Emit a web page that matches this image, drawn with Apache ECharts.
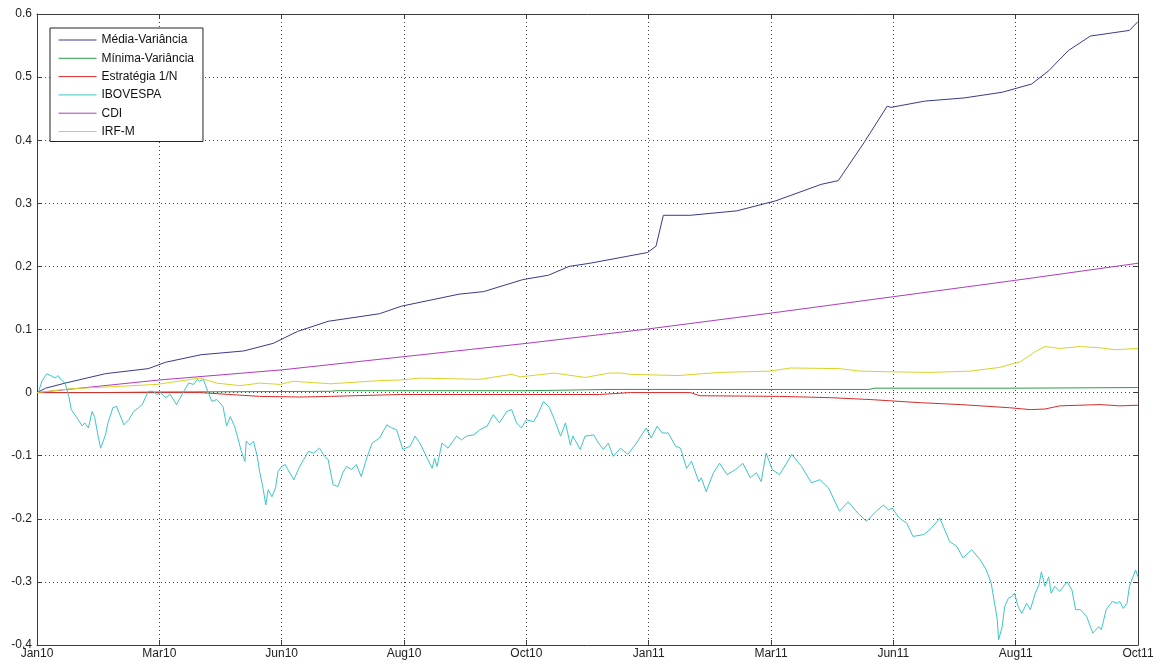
<!DOCTYPE html>
<html>
<head>
<meta charset="utf-8">
<title>Retorno acumulado</title>
<script src="https://cdn.jsdelivr.net/npm/echarts@6/dist/echarts.min.js"></script>
<style>
  html, body { margin: 0; padding: 0; background: #ffffff; }
  #chart { width: 1161px; height: 666px; }
</style>
</head>
<body>
<div id="chart"></div>
<script>
// Tick labels on the time axis (equally spaced positions 0..9)
const xTickLabels = ['Jan10', 'Mar10', 'Jun10', 'Aug10', 'Oct10', 'Jan11', 'Mar11', 'Jun11', 'Aug11', 'Oct11'];

// Series names
const seriesNames = ['Média-Variância', 'Mínima-Variância', 'Estratégia 1/N', 'IBOVESPA', 'CDI', 'IRF-M'];

// Cumulative returns as [axis position, value]
const mediaVariancia = [
  [0, 0], [0.07, 0.007], [0.23, 0.015], [0.56, 0.030], [0.91, 0.038], [1.05, 0.048],
  [1.34, 0.060], [1.69, 0.066], [1.93, 0.078], [2.13, 0.097], [2.38, 0.113], [2.80, 0.125],
  [2.98, 0.137], [3.45, 0.156], [3.65, 0.160], [3.97, 0.179], [4.18, 0.186], [4.35, 0.200],
  [4.52, 0.205], [4.99, 0.222], [5.06, 0.232], [5.12, 0.281], [5.34, 0.281], [5.72, 0.288],
  [6.04, 0.304], [6.41, 0.330], [6.55, 0.336], [6.76, 0.396], [6.95, 0.454], [6.98, 0.452],
  [7.26, 0.462], [7.58, 0.467], [7.89, 0.476], [8.13, 0.489], [8.27, 0.510], [8.43, 0.542],
  [8.61, 0.565], [8.93, 0.574], [9.00, 0.588]
];

const minimaVariancia = [
  [0, 0], [0.5, 0.000], [1.0, 0.001], [2.4, 0.002], [2.45, 0.003], [4.0, 0.003],
  [4.7, 0.005], [6.8, 0.005], [6.85, 0.007], [8.0, 0.007], [9.0, 0.008]
];

const estrategia1N = [
  [0, 0], [1.0, 0.000], [1.33, 0.000], [1.82, -0.006], [2.15, -0.007], [2.40, -0.006],
  [2.97, -0.003], [4.60, -0.003], [4.85, 0.000], [5.34, 0.000], [5.42, -0.005], [6.07, -0.006],
  [6.48, -0.008], [6.81, -0.011], [7.22, -0.016], [7.55, -0.019], [7.95, -0.024], [8.12, -0.027],
  [8.24, -0.026], [8.36, -0.021], [8.69, -0.019], [8.85, -0.021], [9.00, -0.020]
];

const ibovespa = [
  [0.01, 0.000], [0.04, 0.018], [0.08, 0.030], [0.12, 0.026], [0.15, 0.023], [0.17, 0.027],
  [0.20, 0.020], [0.23, 0.015], [0.26, -0.006], [0.28, -0.027], [0.32, -0.038], [0.37, -0.053],
  [0.39, -0.048], [0.42, -0.056], [0.45, -0.030], [0.47, -0.038], [0.50, -0.069], [0.52, -0.088],
  [0.56, -0.067], [0.58, -0.048], [0.62, -0.024], [0.65, -0.022], [0.71, -0.051], [0.75, -0.043],
  [0.79, -0.030], [0.83, -0.024], [0.86, -0.019], [0.91, 0.002], [0.95, 0.002], [0.98, -0.003],
  [1.01, 0.000], [1.05, -0.008], [1.09, -0.003], [1.14, -0.019], [1.20, 0.002], [1.24, 0.015],
  [1.28, 0.013], [1.31, 0.021], [1.33, 0.018], [1.36, 0.021], [1.40, 0.000], [1.43, -0.014],
  [1.47, -0.011], [1.52, -0.022], [1.55, -0.053], [1.58, -0.038], [1.62, -0.056], [1.67, -0.093],
  [1.70, -0.109], [1.71, -0.077], [1.74, -0.083], [1.77, -0.077], [1.80, -0.101], [1.82, -0.125],
  [1.85, -0.154], [1.87, -0.178], [1.89, -0.154], [1.92, -0.165], [1.95, -0.151], [1.97, -0.125],
  [2.00, -0.117], [2.03, -0.114], [2.05, -0.122], [2.10, -0.138], [2.14, -0.120], [2.18, -0.106],
  [2.22, -0.093], [2.26, -0.096], [2.31, -0.088], [2.35, -0.101], [2.38, -0.106], [2.42, -0.146],
  [2.46, -0.149], [2.50, -0.127], [2.53, -0.117], [2.57, -0.122], [2.61, -0.114], [2.65, -0.133],
  [2.70, -0.101], [2.74, -0.080], [2.80, -0.072], [2.86, -0.051], [2.90, -0.056], [2.94, -0.059],
  [2.99, -0.090], [3.05, -0.085], [3.09, -0.069], [3.13, -0.080], [3.19, -0.104], [3.23, -0.120],
  [3.25, -0.104], [3.27, -0.117], [3.31, -0.080], [3.36, -0.088], [3.43, -0.069], [3.47, -0.075],
  [3.51, -0.069], [3.57, -0.067], [3.62, -0.059], [3.68, -0.053], [3.73, -0.035], [3.78, -0.048],
  [3.84, -0.030], [3.88, -0.027], [3.92, -0.048], [3.96, -0.056], [4.00, -0.043], [4.06, -0.046],
  [4.10, -0.032], [4.14, -0.014], [4.19, -0.024], [4.23, -0.043], [4.28, -0.069], [4.32, -0.048],
  [4.36, -0.083], [4.38, -0.069], [4.44, -0.090], [4.48, -0.069], [4.55, -0.067], [4.59, -0.080],
  [4.63, -0.090], [4.67, -0.080], [4.71, -0.101], [4.77, -0.088], [4.83, -0.098], [4.90, -0.080],
  [4.98, -0.056], [5.02, -0.072], [5.07, -0.053], [5.11, -0.064], [5.16, -0.064], [5.22, -0.085],
  [5.26, -0.088], [5.31, -0.120], [5.35, -0.109], [5.41, -0.141], [5.43, -0.135], [5.47, -0.157],
  [5.53, -0.127], [5.58, -0.112], [5.64, -0.130], [5.71, -0.122], [5.77, -0.112], [5.83, -0.135],
  [5.88, -0.127], [5.92, -0.141], [5.96, -0.096], [6.01, -0.122], [6.07, -0.130], [6.17, -0.098],
  [6.25, -0.117], [6.33, -0.143], [6.40, -0.138], [6.47, -0.151], [6.56, -0.188], [6.63, -0.173],
  [6.71, -0.191], [6.78, -0.204], [6.86, -0.188], [6.92, -0.178], [6.96, -0.186], [6.99, -0.183],
  [7.05, -0.199], [7.11, -0.207], [7.16, -0.228], [7.25, -0.225], [7.31, -0.215], [7.38, -0.199],
  [7.46, -0.236], [7.52, -0.244], [7.57, -0.262], [7.64, -0.249], [7.71, -0.265], [7.76, -0.281],
  [7.80, -0.302], [7.85, -0.360], [7.86, -0.392], [7.89, -0.371], [7.91, -0.339], [7.94, -0.326],
  [7.97, -0.323], [7.99, -0.318], [8.02, -0.339], [8.05, -0.350], [8.09, -0.334], [8.12, -0.344],
  [8.16, -0.318], [8.19, -0.305], [8.21, -0.284], [8.24, -0.307], [8.27, -0.292], [8.29, -0.318],
  [8.32, -0.307], [8.36, -0.315], [8.42, -0.300], [8.46, -0.313], [8.49, -0.344], [8.53, -0.344],
  [8.58, -0.355], [8.63, -0.381], [8.68, -0.371], [8.70, -0.376], [8.74, -0.344], [8.79, -0.331],
  [8.83, -0.334], [8.85, -0.331], [8.88, -0.342], [8.91, -0.334], [8.93, -0.307], [8.98, -0.281],
  [9.00, -0.292]
];

const cdi = [
  [0, 0], [1, 0.020], [2, 0.036], [3, 0.057], [4, 0.078], [5, 0.101],
  [6, 0.126], [7, 0.152], [8, 0.178], [9, 0.205]
];

const irfM = [
  [0, 0], [0.27, 0.006], [0.68, 0.010], [0.98, 0.013], [1.33, 0.023], [1.47, 0.015],
  [1.66, 0.011], [1.82, 0.015], [1.99, 0.013], [2.09, 0.018], [2.40, 0.014], [2.80, 0.019],
  [2.97, 0.020], [3.13, 0.023], [3.62, 0.021], [3.88, 0.029], [3.95, 0.025], [4.23, 0.031],
  [4.48, 0.024], [4.68, 0.031], [4.77, 0.031], [4.85, 0.029], [5.24, 0.027], [5.58, 0.032],
  [5.99, 0.034], [6.16, 0.039], [6.56, 0.038], [6.73, 0.034], [6.97, 0.033], [7.30, 0.032],
  [7.63, 0.034], [7.87, 0.040], [8.04, 0.049], [8.16, 0.065], [8.24, 0.073], [8.36, 0.070],
  [8.53, 0.073], [8.69, 0.071], [8.81, 0.068], [9.00, 0.070]
];

const seriesData = [mediaVariancia, minimaVariancia, estrategia1N, ibovespa, cdi, irfM];
const seriesColors = ['#383b8a', '#2c9a48', '#d62c2c', '#3cc6c6', '#b03cbc', '#d8d426'];

const FONT = '"Liberation Sans", Arial, sans-serif';
const AXIS_COLOR = '#3c3c3c';

const chart = echarts.init(document.getElementById('chart'), null, { renderer: 'canvas' });

function boxAxis(extra) {
  return Object.assign({
    axisLine: { show: true, onZero: false, lineStyle: { color: AXIS_COLOR, width: 1 } },
    axisTick: { show: true, inside: true, length: 5, lineStyle: { color: AXIS_COLOR, width: 1 } },
    axisLabel: { show: false },
    splitLine: { show: false }
  }, extra);
}

const option = {
  backgroundColor: '#ffffff',
  animation: false,
  textStyle: { fontFamily: FONT },
  grid: { left: 37, right: 23, top: 14, bottom: 21, containLabel: false },
  legend: {
    orient: 'vertical',
    left: 50,
    top: 28,
    data: seriesNames,
    backgroundColor: '#ffffff',
    borderColor: '#222222',
    borderWidth: 1,
    padding: [6, 9, 4, 8],
    itemWidth: 38,
    itemHeight: 12,
    itemGap: 6.3,
    // line-only keys: hide the marker drawn over each key line
    itemStyle: { opacity: 0 },
    lineStyle: { width: 1 },
    textStyle: { fontFamily: FONT, fontSize: 12, color: '#111111' }
  },
  xAxis: [
    boxAxis({
      type: 'value', min: 0, max: 9, interval: 1, position: 'bottom',
      axisLabel: {
        show: true, color: '#222222', fontFamily: FONT, fontSize: 12, margin: 3,
        formatter: v => xTickLabels[Math.round(v)] || ''
      },
      splitLine: { show: true, lineStyle: { color: '#444444', type: [1, 3], width: 1 } }
    }),
    boxAxis({ type: 'value', min: 0, max: 9, interval: 1, position: 'top' })
  ],
  yAxis: [
    boxAxis({
      type: 'value', min: -0.4, max: 0.6, interval: 0.1, position: 'left',
      axisLabel: {
        show: true, color: '#222222', fontFamily: FONT, fontSize: 12, margin: 5,
        formatter: v => String(Math.round(v * 10) / 10)
      },
      splitLine: { show: true, lineStyle: { color: '#444444', type: [1, 3], width: 1 } }
    }),
    boxAxis({ type: 'value', min: -0.4, max: 0.6, interval: 0.1, position: 'right' })
  ],
  series: seriesNames.map((name, i) => ({
    name: name,
    type: 'line',
    data: seriesData[i],
    xAxisIndex: 0,
    yAxisIndex: 0,
    symbol: 'none',
    showSymbol: false,
    color: seriesColors[i],
    lineStyle: { color: seriesColors[i], width: 1 },
    z: 2 + i
  }))
};

chart.setOption(option);
</script>
</body>
</html>
